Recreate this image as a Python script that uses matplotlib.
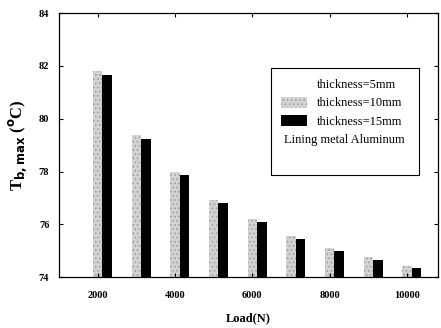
import matplotlib
matplotlib.use("Agg")
import matplotlib.pyplot as plt
import numpy as np
from matplotlib.patches import Patch

plt.rcParams['font.family'] = ['Liberation Serif', 'DejaVu Serif']
plt.rcParams['hatch.linewidth'] = 0.6

loads = [2000, 3000, 4000, 5000, 6000, 7000, 8000, 9000, 10000]
t_5mm = [81.95, 79.55, 78.15, 77.05, 76.3, 75.68, 75.22, 74.86, 74.5]
t_10mm = [81.8, 79.4, 78.0, 76.92, 76.2, 75.56, 75.12, 74.77, 74.43]
t_15mm = [81.64, 79.25, 77.87, 76.8, 76.08, 75.44, 75.0, 74.66, 74.35]
xticks = [2000, 4000, 6000, 8000, 10000]
yticks = [74, 76, 78, 80, 82, 84]

fig = plt.figure(figsize=(4.41, 3.28), dpi=100)
ax = fig.add_axes([0.134, 0.155, 0.859, 0.805])

x = np.array(loads)
w = 245
ax.bar(x - w, np.array(t_5mm) - 74, width=w, bottom=74, color='white', edgecolor='none', label='thickness=5mm')
ax.bar(x, np.array(t_10mm) - 74, width=w, bottom=74, facecolor='#d2d2d2', edgecolor='#9a9a9a',
       linewidth=0, hatch='....', label='thickness=10mm')
ax.bar(x + w, np.array(t_15mm) - 74, width=w, bottom=74, color='black', edgecolor='none', label='thickness=15mm')

ax.set_xlim(1000, 10800)
ax.set_ylim(74, 84)
ax.set_xticks(xticks)
ax.set_yticks(yticks)
ax.set_xticklabels([str(v) for v in xticks], fontsize=7.5, fontweight='bold')
ax.set_yticklabels([str(v) for v in yticks], fontsize=7.5, fontweight='bold')
ax.tick_params(direction='in', top=True, right=True, length=3, width=0.8, pad=7)
ax.tick_params(axis='x', pad=10)
for s in ax.spines.values():
    s.set_linewidth(0.9)

ax.set_xlabel('Load(N)', fontsize=9, fontweight='bold', labelpad=9)
ax.set_ylabel(r'T$_{\mathbf{b,max}}$ ($^{\mathbf{o}}$C)', fontsize=12, fontweight='bold', labelpad=7)

handles, labels = ax.get_legend_handles_labels()
blank = Patch(visible=False)
handles += [blank, blank]
labels += ['', '']
leg = ax.legend(handles, labels, loc='upper left', bbox_to_anchor=(0.559, 0.375, 0.391, 0.417),
                mode='expand', fontsize=9, frameon=True, fancybox=False, edgecolor='black',
                framealpha=1, handlelength=2.1, handleheight=1.0, handletextpad=0.8,
                labelspacing=0.45, borderpad=0.8, borderaxespad=0)
leg.get_frame().set_linewidth(0.8)
ax.text(0.754, 0.519, 'Lining metal Aluminum', transform=ax.transAxes, ha='center', va='center',
        fontsize=9, zorder=10)

fig.savefig('out.png', dpi=100)
